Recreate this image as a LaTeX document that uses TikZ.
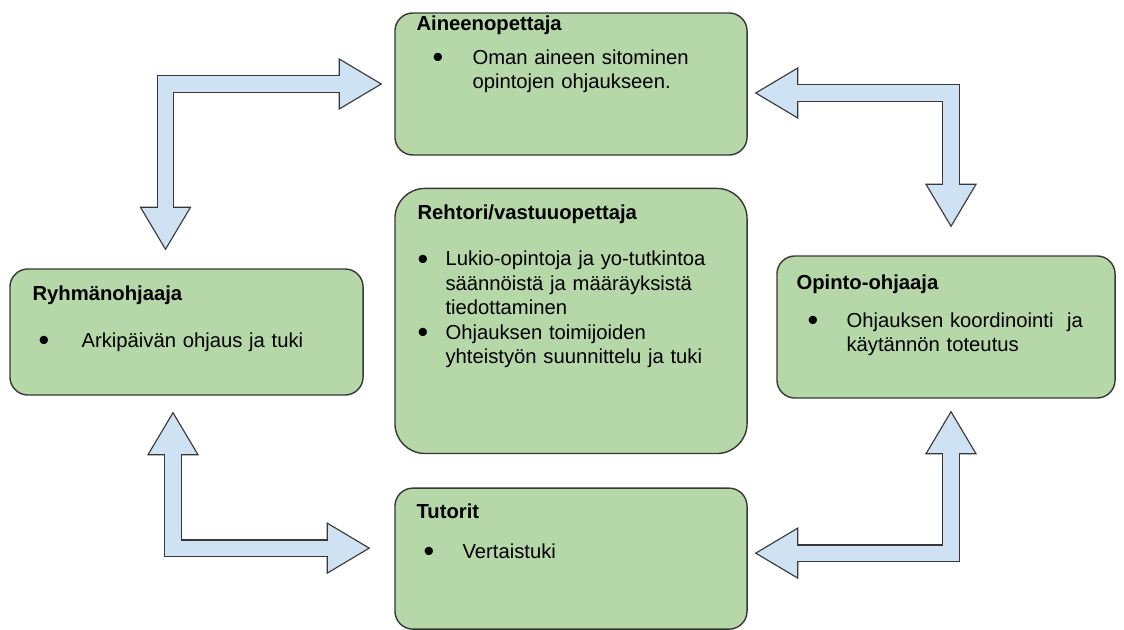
\documentclass[tikz,border=0pt]{standalone}
\usepackage{fontspec}
\usepackage{graphicx}
\setmainfont{Liberation Sans}
\usetikzlibrary{positioning,calc}

\definecolor{laatikkovihrea}{HTML}{B6D7A8}
\definecolor{nuolisininen}{HTML}{CFE2F3}
\definecolor{reuna}{HTML}{383838}

\newlength{\px}
\setlength{\px}{0.025cm}

\newcommand{\otsikko}[1]{\noindent\textbf{#1}}
\newcommand{\pallo}{\raisebox{-0.18em}{\scalebox{1.5}{\textbullet}}}
% bullet at #1, text at #2
\newcommand{\kohta}[3]{\par\noindent\hangindent=#2\hangafter=1\hbox to #2{\hspace*{#1}\pallo\hfil}#3\par}

% L-shaped block arrow with two heads: tip, corner, tip
\newcommand{\tuplanuoli}[3]{%
  \path ($(#1)!1.05cm!(#2)$) coordinate (#1-k)
        ($(#3)!1.05cm!(#2)$) coordinate (#3-k);
  \draw[line width=12.3pt, draw=reuna, line join=miter] (#1-k) -- (#2) -- (#3-k);
  \filldraw[nuolenkarki] (#1) -- ($(#1-k)!0.625cm!90:(#1)$) -- ($(#1-k)!0.625cm!-90:(#1)$) -- cycle;
  \filldraw[nuolenkarki] (#3) -- ($(#3-k)!0.625cm!90:(#3)$) -- ($(#3-k)!0.625cm!-90:(#3)$) -- cycle;
  \draw[line width=10.7pt, draw=nuolisininen, line join=miter] ($(#1-k)!-1.5pt!(#2)$) -- (#2) -- ($(#3-k)!-1.5pt!(#2)$);
}

\begin{document}
\begin{tikzpicture}[x=0.025cm,y=-0.025cm,
    laatikko/.style={draw=reuna, line width=1pt, fill=laatikkovihrea, rounded corners=0.45cm, inner sep=0pt},
    teksti/.style={anchor=north west, inner sep=0pt, text width=8cm, font=\fontsize{14.4pt}{17.4pt}\selectfont},
    nuolenkarki/.style={draw=reuna, line width=0.8pt, fill=nuolisininen, line join=miter}]

\path[use as bounding box, fill=white] (0,0) rectangle (1124,630);

% boxes
\node[laatikko, minimum width=8.8cm, minimum height=3.55cm] (aine) at (571,84) {};
\node[laatikko, minimum width=8.8cm, minimum height=6.625cm, rounded corners=0.75cm, below=0.8cm of aine] (rehtori) {};
\node[laatikko, minimum width=8.8cm, minimum height=3.525cm, below=0.83cm of rehtori] (tutorit) {};
\node[laatikko, minimum width=8.825cm, minimum height=3.15cm] (ryhm) at (186.5,332) {};
\node[laatikko, minimum width=8.45cm, minimum height=3.55cm] (opinto) at (946,327) {};

% texts
\node[teksti] (aine-t) at ([shift={(22,3)}]aine.north west)
  {\otsikko{Aineenopettaja}\par\vspace{9.5\px}
   \kohta{16\px}{56\px}{Oman aineen sitominen\newline opintojen ohjaukseen.}};
\node[teksti] (rehtori-t) at ([shift={(23,17)}]rehtori.north west)
  {\otsikko{Rehtori/vastuuopettaja}\par\vspace{21.5\px}
   \kohta{0\px}{28\px}{Lukio-opintoja ja yo-tutkintoa\newline säännöistä ja määräyksistä\newline tiedottaminen}
   \kohta{0\px}{28\px}{Ohjauksen toimijoiden\newline yhteistyön suunnittelu ja tuki}};
\node[teksti] (ryhm-t) at ([shift={(23,17)}]ryhm.north west)
  {\otsikko{Ryhmänohjaaja}\par\vspace{22.5\px}
   \kohta{6\px}{49\px}{Arkipäivän ohjaus ja tuki}};
\node[teksti] (opinto-t) at ([shift={(20,19)}]opinto.north west)
  {\otsikko{Opinto-ohjaaja}\par\vspace{13.5\px}
   \kohta{11\px}{50\px}{Ohjauksen koordinointi\ \ ja\newline käytännön toteutus}};
\node[teksti] (tutorit-t) at ([shift={(22,16)}]tutorit.north west)
  {\otsikko{Tutorit}\par\vspace{15.5\px}
   \kohta{7\px}{46\px}{Vertaistuki}};

% arrow ends
\coordinate (aine-vasen) at ([shift={(-13,0)}]aine.west);
\coordinate (ryhm-yla) at ([shift={(-21,-19)}]ryhm.north);
\coordinate (nurkka1) at (ryhm-yla |- aine-vasen);
\coordinate (aine-oikea) at ([shift={(8,9)}]aine.east);
\coordinate (opinto-yla) at ([shift={(5,-29)}]opinto.north);
\coordinate (nurkka2) at (opinto-yla |- aine-oikea);
\coordinate (ryhm-ala) at ([shift={(-13.5,17)}]ryhm.south);
\coordinate (tutor-vasen) at ([shift={(-25,-10.5)}]tutorit.west);
\coordinate (nurkka3) at (ryhm-ala |- tutor-vasen);
\coordinate (tutor-oikea) at ([shift={(8,-5.5)}]tutorit.east);
\coordinate (opinto-ala) at ([shift={(5,13)}]opinto.south);
\coordinate (nurkka4) at (opinto-ala |- tutor-oikea);

% arrows
\tuplanuoli{ryhm-yla}{nurkka1}{aine-vasen}
\tuplanuoli{aine-oikea}{nurkka2}{opinto-yla}
\tuplanuoli{ryhm-ala}{nurkka3}{tutor-vasen}
\tuplanuoli{tutor-oikea}{nurkka4}{opinto-ala}
\end{tikzpicture}
\end{document}
